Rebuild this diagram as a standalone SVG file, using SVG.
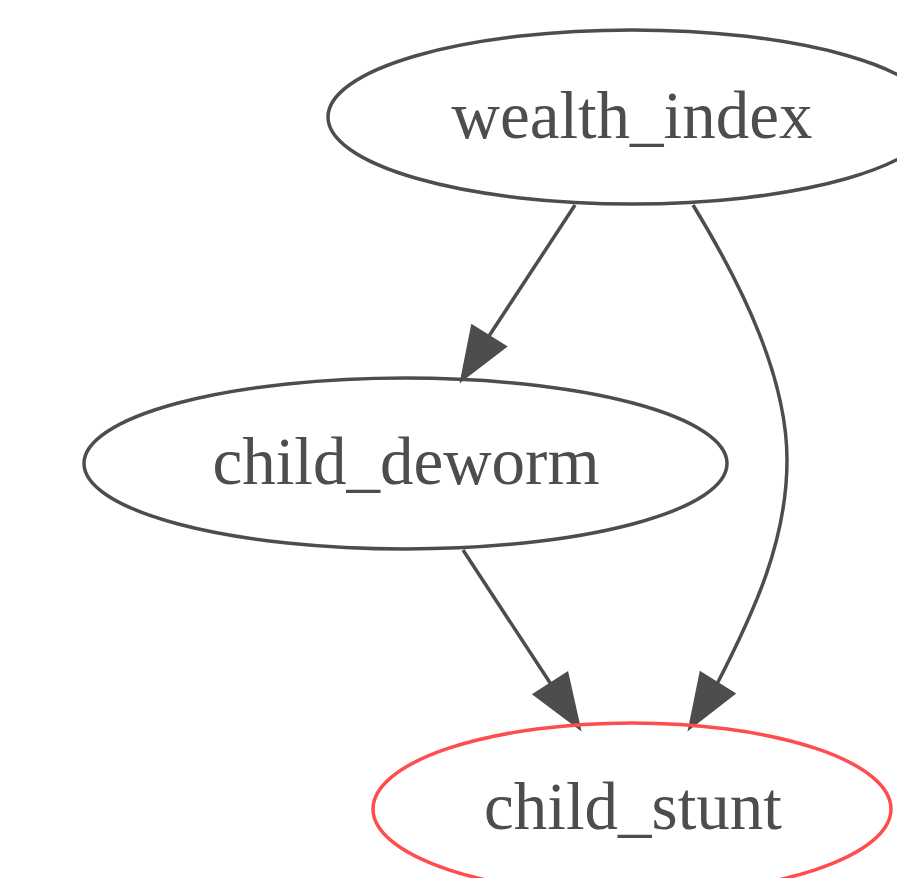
<svg xmlns="http://www.w3.org/2000/svg" width="897" height="878" viewBox="0 0 897 878">
<style>
.node ellipse{fill:none;stroke:#4d4d4d;stroke-width:3.5}
.node.out ellipse{stroke:#ff4d4d}
.node text{font-family:"Liberation Serif","Times New Roman",serif;font-size:67px;fill:#4d4d4d;text-anchor:middle}
.edge{fill:none;stroke:#4d4d4d;stroke-width:3.5}
.head{fill:#4d4d4d;stroke:#4d4d4d;stroke-width:2}
</style>
<rect width="897" height="878" fill="#ffffff"/>
<g id="edges">
<path class="edge" d="M575,205 L489,336"/>
<polygon class="head" points="461,381 506,346.6 472,325.4"/>
<path class="edge" d="M463,550 L550.5,683.5"/>
<polygon class="head" points="580,729 567.4,672.6 533.6,694.4"/>
<path class="edge" d="M693,205 C745,290 787,380 787,460 C787,540 755,610 717.5,683"/>
<polygon class="head" points="689,729 734.5,693.6 700.5,672.4"/>
</g>
<g id="wealth_index" class="node">
<ellipse cx="632" cy="117" rx="304" ry="87"/>
<text x="632" y="138">wealth_index</text>
</g>
<g id="child_deworm" class="node">
<ellipse cx="405.5" cy="463.5" rx="321.5" ry="85.5"/>
<text x="406" y="484">child_deworm</text>
</g>
<g id="child_stunt" class="node out">
<ellipse cx="632" cy="809" rx="259" ry="86"/>
<text x="633" y="829">child_stunt</text>
</g>
</svg>
